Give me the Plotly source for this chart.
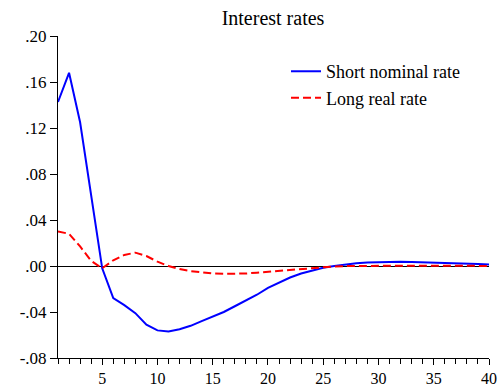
import plotly.graph_objects as go

periods = list(range(1, 41))

short_nominal = [
    0.1426, 0.168, 0.125, 0.062, -0.002, -0.028, -0.034, -0.041, -0.051, -0.056,
    -0.057, -0.055, -0.052, -0.048, -0.044, -0.040, -0.035, -0.030, -0.025, -0.019,
    -0.0145, -0.010, -0.0065, -0.0038, -0.0016, 0.0000, 0.0013, 0.0023, 0.0030, 0.0034,
    0.0036, 0.0036, 0.0035, 0.0033, 0.0030, 0.0027, 0.0023, 0.0020, 0.0017, 0.0014,
]

long_real = [
    0.030, 0.028, 0.017, 0.0045, -0.002, 0.005, 0.0096, 0.0116, 0.0087, 0.0038,
    0.000, -0.0026, -0.0045, -0.0058, -0.0065, -0.0068, -0.0068, -0.0065, -0.0058, -0.0050,
    -0.0042, -0.0035, -0.0025, -0.0015, -0.0010, -0.0004, -0.0001, 0.0001, 0.0002, 0.0002,
    0.0002, 0.0002, 0.0002, 0.0002, 0.0002, 0.0001, 0.0001, 0.0001, 0.0001, 0.0001,
]

y_ticks = [0.20, 0.16, 0.12, 0.08, 0.04, 0.00, -0.04, -0.08]
y_labels = [".20", ".16", ".12", ".08", ".04", ".00", "-.04", "-.08"]

fig = go.Figure()

# Short nominal rate
fig.add_trace(go.Scatter(
    x=periods, y=short_nominal, mode="lines", name="Short nominal rate",
    line=dict(color="#0000ff", width=2),
))

# Long real rate
fig.add_trace(go.Scatter(
    x=periods, y=long_real, mode="lines", name="Long real rate",
    line=dict(color="#ff0000", width=2, dash="8px,4px"),
))

fig.update_layout(
    width=500,
    height=386,
    paper_bgcolor="white",
    plot_bgcolor="white",
    font=dict(family="Liberation Serif, Times New Roman, serif", size=16, color="black"),
    title=dict(text="Interest rates", x=0.546, xanchor="center", y=0.953, yanchor="middle",
               font=dict(size=20)),
    margin=dict(l=58, r=11, t=36, b=28),
    showlegend=True,
    legend=dict(
        x=0.529, y=0.947, xanchor="left", yanchor="top",
        bgcolor="rgba(0,0,0,0)", font=dict(size=18),
    ),
    xaxis=dict(
        range=[1, 40],
        tick0=0, dtick=5,
        ticks="outside", ticklen=6, tickwidth=1, tickcolor="black",
        minor=dict(dtick=1, ticks="outside", ticklen=5, tickwidth=1, tickcolor="black"),
        showline=True, linecolor="black", linewidth=1,
        showgrid=False, zeroline=False, automargin=False,
        ticklabeloverflow="allow",
    ),
    yaxis=dict(
        range=[-0.08, 0.20],
        tickvals=y_ticks, ticktext=y_labels,
        ticks="outside", ticklen=7, tickwidth=1, tickcolor="black",
        showline=True, linecolor="black", linewidth=1,
        showgrid=False, zeroline=True, zerolinecolor="black", zerolinewidth=1,
        automargin=False, tickfont=dict(size=17),
    ),
)

# drop the default 8px page margin so the figure sits at the window corner
fig.write_html(
    "out.html",
    config={"displayModeBar": False},
    post_script="document.body.style.margin='0';",
)
